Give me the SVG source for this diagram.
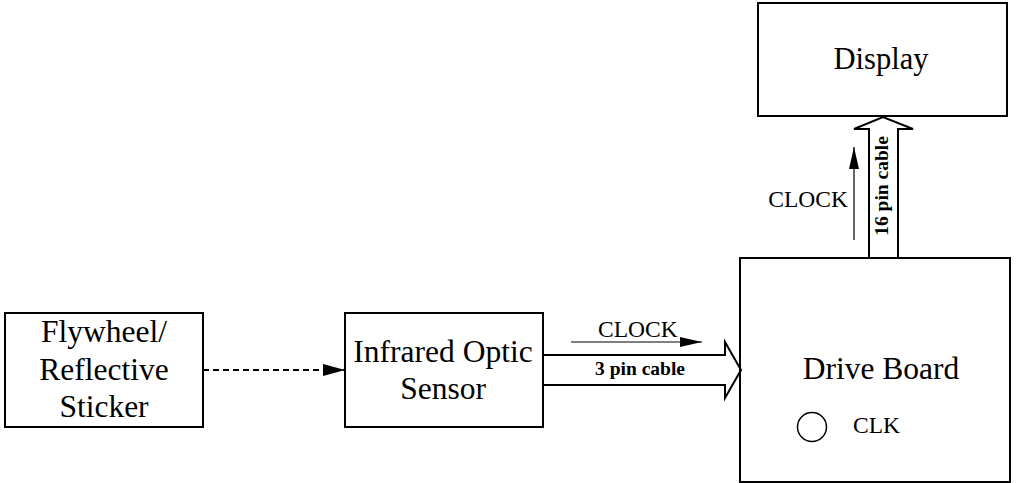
<svg xmlns="http://www.w3.org/2000/svg" width="1026" height="483" viewBox="0 0 1026 483">
<defs>
<style>
.box{fill:#fff;stroke:#000;stroke-width:2}
text{font-family:'Liberation Serif','Times New Roman',Times,'DejaVu Serif',serif;fill:#000}
.t{font-size:31.5px;text-anchor:middle}
.s{font-size:23.5px}
.b{font-size:19.5px;font-weight:bold;text-anchor:middle}
.ln{fill:none;stroke:#000;stroke-width:2}
</style>
<marker id="ahl" markerWidth="22" markerHeight="10" refX="22" refY="5" orient="auto" markerUnits="userSpaceOnUse"><path d="M0,0 L22,5 L0,10 Z" fill="#000"/></marker>
<marker id="ahd" markerWidth="22" markerHeight="12" refX="22" refY="6" orient="auto" markerUnits="userSpaceOnUse"><path d="M0,0 L22,6 L0,12 Z" fill="#000"/></marker>
</defs>
<g id="flywheel"><rect class="box" x="5" y="313" width="198" height="114"/><text class="t" x="104" y="342">Flywheel/</text><text class="t" x="104" y="380">Reflective</text><text class="t" x="104" y="417">Sticker</text></g>
<g id="sensor"><rect class="box" x="345" y="313" width="198" height="114"/><text class="t" x="443" y="362">Infrared Optic</text><text class="t" x="443" y="399">Sensor</text></g>
<g id="display"><rect class="box" x="758" y="3" width="249" height="113"/><text class="t" x="881" y="69" style="font-size:30.5px">Display</text></g>
<g id="driveboard"><rect class="box" x="740" y="258" width="270" height="224"/><text class="t" x="881" y="379">Drive Board</text><circle cx="812" cy="427" r="14.5" fill="none" stroke="#000" stroke-width="1.5"/><text class="s" x="853" y="433">CLK</text></g>
<g id="connectors">
<line x1="203" y1="370" x2="345" y2="370" stroke="#000" stroke-width="2" stroke-dasharray="6,4" marker-end="url(#ahd)"/>
<line x1="571" y1="342" x2="702" y2="342" stroke="#000" stroke-width="1.2" marker-end="url(#ahl)"/>
<text class="s" x="598" y="337">CLOCK</text>
<path class="ln" d="M543,355 L725,355 L725,342 L741,370 L725,398 L725,385 L543,385"/>
<text class="b" x="640" y="375">3 pin cable</text>
<line x1="854" y1="240" x2="854" y2="147" stroke="#000" stroke-width="1.2" marker-end="url(#ahl)"/>
<text class="s" x="848" y="207" text-anchor="end">CLOCK</text>
<path class="ln" d="M869,258 L869,129 L854,129 L883,117 L913,129 L898,129 L898,258"/>
<text class="b" transform="translate(888,186) rotate(-90)">16 pin cable</text>
</g>
</svg>
